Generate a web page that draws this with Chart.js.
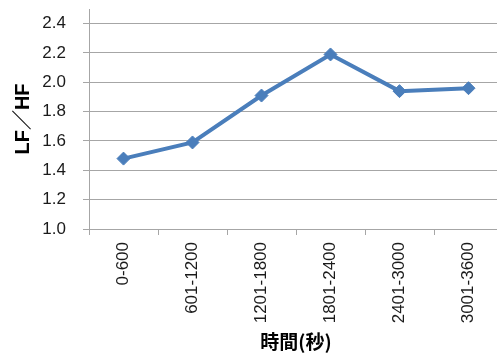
<!DOCTYPE html>
<html>
<head>
<meta charset="utf-8">
<script src="https://cdn.jsdelivr.net/npm/chart.js@4"></script>
<style>
  html, body { margin: 0; padding: 0; background: #fff; overflow: hidden; }
  #wrap { width: 497px; height: 355px; overflow: hidden; }
  #chartLfHf { display: block; width: 503px !important; height: 355px !important; max-width: none !important; }
</style>
</head>
<body>
<div id="wrap"><canvas id="chartLfHf" width="503" height="355"></canvas></div>
<script>
// data
const timeRanges = ["0-600", "601-1200", "1201-1800", "1801-2400", "2401-3000", "3001-3600"];
const lfHfValues = [1.48, 1.59, 1.91, 2.19, 1.94, 1.96];
const yMin = 1.0;
const yMax = 2.5;
const yStep = 0.2;
const yLastLabel = 2.4;

const LINE_BLUE = "#4a7ebb";
const GRID_GRAY = "#a6a6a6";
const TICK_FONT = { family: "'Liberation Sans', Arial, sans-serif", size: 17 };

// keep the plot box where the reference has it
const noPad = scale => {
  scale.paddingTop = 0;
  scale.paddingBottom = 0;
  scale.paddingLeft = 0;
  scale.paddingRight = 0;
};

new Chart(document.getElementById("chartLfHf"), {
  type: "line",
  data: {
    labels: timeRanges,
    datasets: [
      {
        label: "LF/HF",
        data: lfHfValues,
        borderColor: LINE_BLUE,
        backgroundColor: LINE_BLUE,
        borderWidth: 4,
        pointStyle: "rectRot",
        pointRadius: 6.5,
        pointBorderWidth: 1,
        pointBackgroundColor: LINE_BLUE,
        pointBorderColor: LINE_BLUE,
        tension: 0,
      },
    ],
  },
  options: {
    responsive: false,
    animation: false,
    layout: { autoPadding: false, padding: { top: 9, left: 0, right: 0, bottom: 0 } },
    plugins: {
      legend: { display: false },
      tooltip: { enabled: false },
    },
    scales: {
      x: {
        offset: true,
        grid: {
          offset: true,
          drawOnChartArea: false,
          drawTicks: true,
          tickLength: 6,
          color: GRID_GRAY,
        },
        border: { color: GRID_GRAY, width: 1 },
        ticks: {
          minRotation: 90,
          maxRotation: 90,
          padding: 7,
          color: "#1a1a1a",
          font: TICK_FONT,
          autoSkip: false,
        },
        title: {
          display: true,
          text: "時間(秒)",
          color: "#000",
          font: { family: "'Noto Sans CJK JP', sans-serif", size: 19, weight: "bold" },
          padding: { top: 0, bottom: 2 },
        },
        afterFit: scale => {
          scale.height = 126;
          noPad(scale);
        },
      },
      y: {
        min: yMin,
        max: yMax,
        grid: {
          color: GRID_GRAY,
          lineWidth: 1,
          drawTicks: true,
          tickLength: 6,
        },
        border: { color: GRID_GRAY, width: 1 },
        ticks: {
          stepSize: yStep,
          padding: 17,
          color: "#1a1a1a",
          font: TICK_FONT,
          callback: v => Number(v).toFixed(1),
        },
        afterBuildTicks: scale => {
          // Excel style: axis runs to 2.5 but the last labelled tick is 2.4
          const ticks = [];
          for (let v = yMin; v <= yLastLabel + 1e-9; v += yStep) {
            ticks.push({ value: Math.round(v * 10) / 10 });
          }
          scale.ticks = ticks;
        },
        title: {
          display: true,
          text: "LF／HF",
          color: "#000",
          font: { family: "'Liberation Sans', 'Noto Sans CJK JP', sans-serif", size: 20, weight: "bold" },
          padding: { top: 11, bottom: 0 },
        },
        afterFit: scale => {
          scale.width = 89;
          noPad(scale);
        },
      },
    },
  },
});
</script>
</body>
</html>
